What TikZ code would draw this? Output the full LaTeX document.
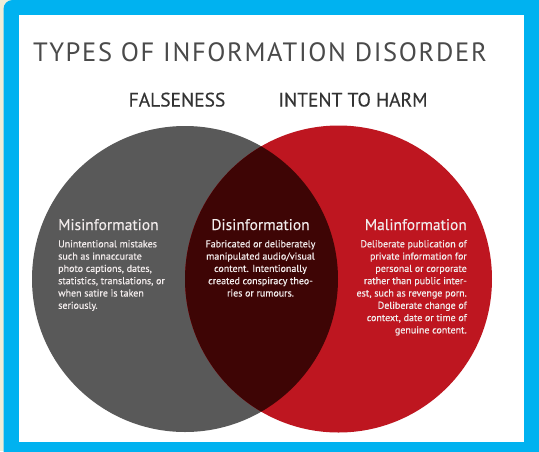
\documentclass[tikz,border=0pt]{standalone}
\usepackage{fontspec}
\setmainfont{PT Sans}
\definecolor{cream}{HTML}{EEEDD8}
\definecolor{frameblue}{HTML}{00B2F0}
\definecolor{venngray}{HTML}{595959}
\definecolor{vennred}{HTML}{BE1620}
\definecolor{vennmix}{HTML}{3E0505}
\definecolor{titlegray}{HTML}{4A4A4A}
\definecolor{labelgray}{HTML}{333333}
\definecolor{bodytext}{HTML}{F2ECEC}
\tikzset{
  title/.style={inner sep=0pt, text=titlegray, font=\fontsize{26.5}{26.5}\selectfont\addfontfeature{LetterSpace=6.3}},
  setlabel/.style={inner sep=0pt, text=labelgray, font=\fontsize{19.5}{19.5}\selectfont\addfontfeature{FakeBold=0.3}},
  heading/.style={inner sep=0pt, text=bodytext, font=\fontsize{15.5}{15.5}\selectfont\addfontfeature{FakeBold=0.2}},
  body/.style={inner sep=0pt, text=bodytext, font=\fontsize{10}{12.3}\selectfont\addfontfeature{FakeBold=0.5}},
}
\begin{document}
\begin{tikzpicture}[x=1pt,y=-1pt]
\useasboundingbox (0,0) rectangle (539,451);
\clip (0,0) rectangle (539,451);
\fill[cream] (0,0) rectangle (539,451);
\fill[frameblue, rounded corners=9pt] (3.5,0) rectangle (560,470);
\fill[white] (19,15) rectangle (523.5,442);
% Venn circles
\fill[venngray] (185,279) circle[radius=153pt];
\fill[vennred] (338.5,279) circle[radius=153.5pt];
\begin{scope}
  \clip (185,279) circle[radius=153pt];
  \fill[vennmix] (338.5,279) circle[radius=153.5pt];
\end{scope}
% texts
\node[title, anchor=base west] (t) at (33,61) {TYPES OF INFORMATION DISORDER};
\node[setlabel, anchor=base] (f) at (177,106.5) {FALSENESS};
\node[setlabel, anchor=base] (h) at (353,106.5) {INTENT TO HARM};

\node[heading, anchor=base west] (mis) at (58,230) {Misinformation};
\node[body, anchor=north west, align=left] (misb) at (58,240) {Unintentional mistakes\\such as innaccurate\\photo captions, dates,\\statistics, translations, or\\when satire is taken\\seriously.};

\node[heading, anchor=base] (dis) at (260.5,230) {Disinformation};
\node[body, anchor=north, align=center] (disb) at (260.5,240) {Fabricated or deliberately\\manipulated audio/visual\\content. Intentionally\\created conspiracy theo-\\ries or rumours.};

\node[heading, anchor=base east] (mal) at (467,230) {Malinformation};
\node[body, anchor=north east, align=right] (malb) at (467,240) {Deliberate publication of\\private information for\\personal or corporate\\rather than public inter-\\est, such as revenge porn.\\Deliberate change of\\context, date or time of\\genuine content.};
\end{tikzpicture}
\end{document}
